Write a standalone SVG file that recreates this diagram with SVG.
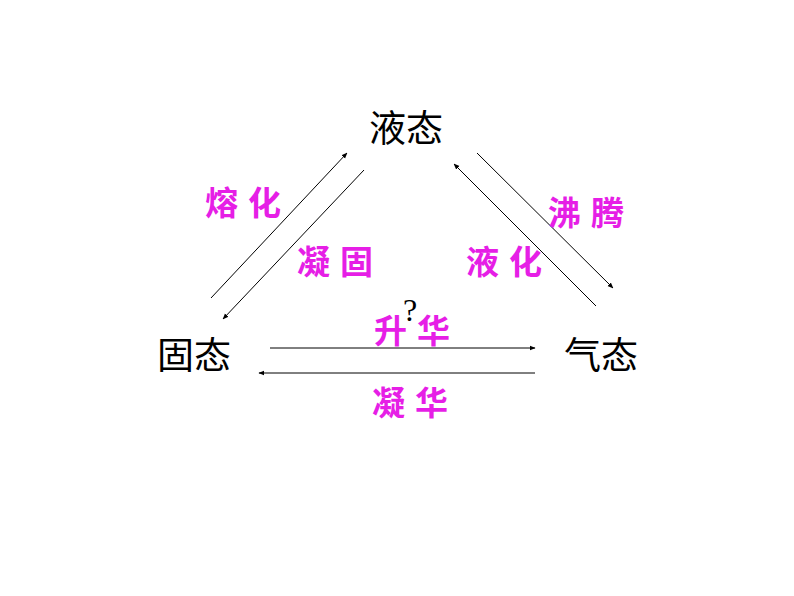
<svg xmlns="http://www.w3.org/2000/svg" width="794" height="596" viewBox="0 0 794 596">
<style>
.state{font-family:"Noto Sans CJK SC","Noto Sans CJK JP",sans-serif;font-size:37px;fill:#000}
.proc{font-family:"Noto Sans CJK SC","Noto Sans CJK JP",sans-serif;font-size:33px;font-weight:bold;fill:#E61EE6;letter-spacing:10px}
.q{font-family:"Liberation Serif",serif;font-size:32px;fill:#000}
.conn line{stroke:#000;stroke-width:1;fill:none;marker-end:url(#ah)}
</style>
<defs>
<marker id="ah" viewBox="0 0 10 10" refX="9" refY="5" markerWidth="6" markerHeight="6" markerUnits="userSpaceOnUse" orient="auto">
<path d="M0,1 L10,5 L0,9 Z" fill="#000"/>
</marker>
</defs>
<rect width="794" height="596" fill="#fff"/>
<g id="liquid"><text class="state" x="369" y="142">液态</text></g>
<g id="solid"><text class="state" x="157" y="369">固态</text></g>
<g id="gas"><text class="state" x="564" y="369">气态</text></g>
<g class="conn" id="connectors">
<line x1="211" y1="298" x2="347" y2="153"/>
<line x1="364" y1="170" x2="223" y2="319"/>
<line x1="596" y1="306" x2="454" y2="164"/>
<line x1="477" y1="153" x2="613" y2="288"/>
<line x1="270" y1="348" x2="535" y2="348"/>
<line x1="535" y1="373" x2="259" y2="373"/>
</g>
<g id="labels">
<text class="proc" x="205" y="215">熔化</text>
<text class="proc" x="297" y="274">凝固</text>
<text class="proc" x="548" y="225">沸腾</text>
<text class="proc" x="466" y="274">液化</text>
<text class="proc" x="374" y="343">升华</text>
<text class="proc" x="372" y="415">凝华</text>
<text class="q" x="403" y="321">?</text>
</g>
</svg>
